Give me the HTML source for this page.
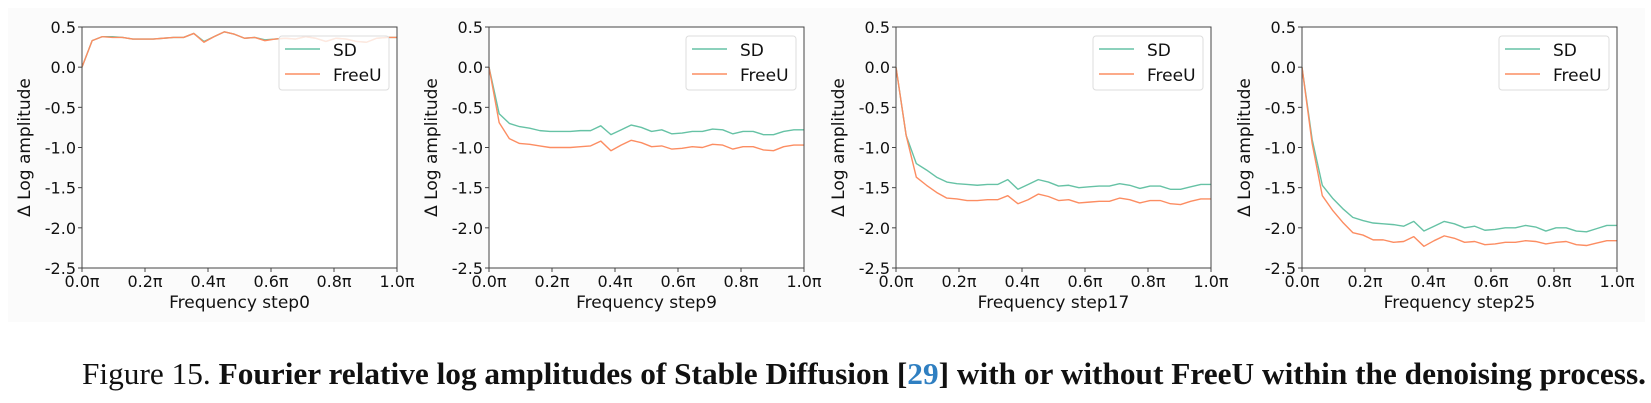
<!DOCTYPE html>
<html><head><meta charset="utf-8"><style>
html,body{margin:0;padding:0;background:#fff;}
svg{display:block;}
text{font-family:"DejaVu Sans","Liberation Sans",sans-serif;fill:#111;}
.cap{font-family:"Liberation Serif",serif;}
</style></head><body>
<svg id="fig" width="1651" height="403" viewBox="0 0 1651 403" xmlns="http://www.w3.org/2000/svg">
<rect x="8" y="8" width="1637" height="314" fill="#fbfbfb"/>
<g id="panels"></g>
<text class="cap" x="82" y="384" font-size="31" textLength="1564" lengthAdjust="spacingAndGlyphs">Figure 15. <tspan font-weight="bold">Fourier relative log amplitudes of Stable Diffusion [</tspan><tspan font-weight="bold" style="fill:#2f7fc1">29</tspan><tspan font-weight="bold">] with or without FreeU within the denoising process.</tspan></text>
</svg>
<script>
const steps = ["step0","step9","step17","step25"];
const xTicks = [0,0.2,0.4,0.6,0.8,1.0];
const xTickLabels = ["0.0π","0.2π","0.4π","0.6π","0.8π","1.0π"];
const yTicks = [0.5,0,-0.5,-1,-1.5,-2,-2.5];
const yTickLabels = ["0.5","0.0","-0.5","-1.0","-1.5","-2.0","-2.5"];
const sd0 = [0,0.33,0.38,0.38,0.37,0.35,0.35,0.35,0.36,0.37,0.37,0.42,0.32,0.38,0.44,0.41,0.36,0.37,0.34,0.35,0.36,0.35,0.38,0.36,0.32,0.36,0.35,0.32,0.31,0.36,0.37,0.37];
const fu0 = [0,0.33,0.38,0.37,0.37,0.35,0.35,0.35,0.36,0.37,0.37,0.42,0.31,0.38,0.44,0.41,0.36,0.37,0.33,0.35,0.36,0.35,0.38,0.36,0.32,0.36,0.35,0.32,0.31,0.36,0.37,0.37];
const sd9 = [0,-0.58,-0.70,-0.74,-0.76,-0.79,-0.80,-0.80,-0.80,-0.79,-0.79,-0.73,-0.84,-0.78,-0.72,-0.75,-0.80,-0.78,-0.83,-0.82,-0.80,-0.80,-0.77,-0.78,-0.83,-0.80,-0.80,-0.84,-0.84,-0.80,-0.78,-0.78];
const fu9 = [0,-0.69,-0.89,-0.95,-0.96,-0.98,-1.00,-1.00,-1.00,-0.99,-0.98,-0.92,-1.04,-0.97,-0.91,-0.94,-0.99,-0.98,-1.02,-1.01,-0.99,-1.00,-0.96,-0.97,-1.02,-0.99,-0.99,-1.03,-1.04,-0.99,-0.97,-0.97];
const sd17 = [0,-0.85,-1.20,-1.28,-1.37,-1.43,-1.45,-1.46,-1.47,-1.46,-1.46,-1.40,-1.52,-1.46,-1.40,-1.43,-1.48,-1.47,-1.50,-1.49,-1.48,-1.48,-1.45,-1.47,-1.51,-1.48,-1.48,-1.52,-1.52,-1.49,-1.46,-1.46];
const fu17 = [0,-0.85,-1.37,-1.47,-1.56,-1.63,-1.64,-1.66,-1.66,-1.65,-1.65,-1.60,-1.70,-1.65,-1.58,-1.61,-1.66,-1.65,-1.69,-1.68,-1.67,-1.67,-1.63,-1.65,-1.69,-1.66,-1.66,-1.70,-1.71,-1.67,-1.64,-1.64];
const sd25 = [0,-0.90,-1.47,-1.63,-1.76,-1.87,-1.91,-1.94,-1.95,-1.96,-1.98,-1.92,-2.04,-1.98,-1.92,-1.95,-2.00,-1.98,-2.03,-2.02,-2.00,-2.00,-1.97,-1.99,-2.04,-2.00,-2.00,-2.04,-2.05,-2.01,-1.97,-1.97];
const fu25 = [0,-0.95,-1.60,-1.78,-1.93,-2.06,-2.09,-2.15,-2.15,-2.18,-2.17,-2.11,-2.23,-2.16,-2.10,-2.13,-2.18,-2.17,-2.21,-2.20,-2.18,-2.18,-2.16,-2.17,-2.20,-2.18,-2.17,-2.21,-2.22,-2.19,-2.16,-2.16];
const sdSeries = [sd0, sd9, sd17, sd25];
const fuSeries = [fu0, fu9, fu17, fu25];

const NS = "http://www.w3.org/2000/svg";
const root = document.getElementById("panels");
const lefts = [82, 489, 896, 1302];
const W = 315, TOP = 27, BOT = 268;
function mk(tag, attrs, parent){const e=document.createElementNS(NS,tag);for(const k in attrs)e.setAttribute(k,attrs[k]);parent.appendChild(e);return e;}
function txt(x,y,s,size,anchor,parent){const t=mk("text",{x:x,y:y,"font-size":size,"text-anchor":anchor},parent);t.textContent=s;return t;}

steps.forEach((st, p) => {
  const L = lefts[p];
  const g = mk("g", {}, root);
  
  
  const xs = v => L + v * W;
  const ys = v => TOP + (0.5 - v) / 3 * (BOT - TOP);
  mk("rect",{x:L,y:TOP,width:W,height:BOT-TOP,fill:"#fff"},g);
  const mkLine = (arr, color, name) => {
    const n = arr.length - 1;
    const pts = arr.map((v,i)=>xs(i/n).toFixed(2)+","+ys(v).toFixed(2)).join(" ");
    const pl = mk("polyline",{points:pts,fill:"none",stroke:color,"stroke-width":1.4,"stroke-linejoin":"round"},g);
    
    
  };
  mkLine(sdSeries[p], "#66c2a5", "sd-line-" + st);
  mkLine(fuSeries[p], "#fc8d62", "freeu-line-" + st);
  const fr = mk("rect",{x:L,y:TOP,width:W,height:BOT-TOP,fill:"none",stroke:"#444","stroke-width":1},g);
  
  
  xTicks.forEach((v,i)=>{
    mk("line",{x1:xs(v),x2:xs(v),y1:BOT,y2:BOT+4,stroke:"#444"},g);
    const t = txt(xs(v), BOT+19, xTickLabels[i], 16, "middle", g);
    
    
  });
  yTicks.forEach((v,i)=>{
    mk("line",{x1:L-4,x2:L,y1:ys(v),y2:ys(v),stroke:"#444"},g);
    const t = txt(L-6, ys(v)+6, yTickLabels[i], 16, "end", g);
    
    
  });
  const xt = txt(L + W/2, BOT+40, "Frequency " + st, 17, "middle", g);
  
  
  const yt = txt(0, 0, "Δ Log amplitude", 17, "middle", g);
  yt.setAttribute("transform", "translate(" + (L-52) + "," + ((TOP+BOT)/2) + ") rotate(-90)");
  
  
  const lg = mk("g", {}, g);
  
  
  const lx = L + W - 118, ly = TOP + 9;
  mk("rect",{x:lx,y:ly,width:110,height:54,rx:3,fill:"#fff","fill-opacity":0.8,stroke:"#ddd"},lg);
  mk("line",{x1:lx+6,x2:lx+41,y1:ly+13,y2:ly+13,stroke:"#66c2a5","stroke-width":1.4},lg);
  mk("line",{x1:lx+6,x2:lx+41,y1:ly+38,y2:ly+38,stroke:"#fc8d62","stroke-width":1.4},lg);
  const s1 = txt(lx+54, ly+20, "SD", 17, "start", lg);
  
  
  const s2 = txt(lx+54, ly+45, "FreeU", 17, "start", lg);
  
  
});
</script>
</body></html>
